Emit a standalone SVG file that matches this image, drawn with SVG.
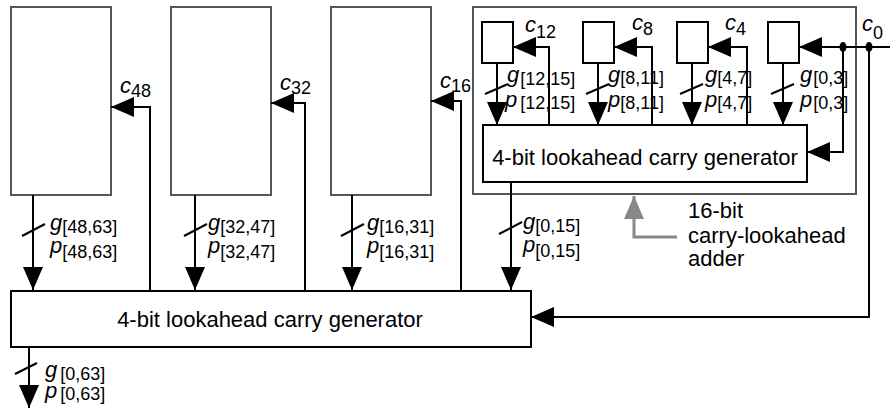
<svg xmlns="http://www.w3.org/2000/svg" width="890" height="410" viewBox="0 0 890 410">
<style>
text{font-family:"Liberation Sans",Arial,Helvetica,sans-serif;fill:#000}
.v{font-style:italic;font-size:22px}
.s{font-style:normal;font-size:18px}
.t{font-size:22px}
.box{fill:#fff;stroke:#555;stroke-width:2}
.blk{fill:#fff;stroke:#000;stroke-width:2}
.grp{fill:none;stroke:#555;stroke-width:2}
.w{fill:none;stroke:#000;stroke-width:2}
.a{marker-end:url(#ah)}
.gr{fill:none;stroke:#888;stroke-width:3;marker-end:url(#gh)}
</style>
<defs>
<marker id="ah" markerUnits="userSpaceOnUse" markerWidth="24" markerHeight="22" refX="23" refY="10" orient="auto" overflow="visible">
<path d="M0,0 L23,10 L0,20 Z" fill="#000"/>
</marker>
<marker id="gh" markerUnits="userSpaceOnUse" markerWidth="24" markerHeight="22" refX="23" refY="10" orient="auto" overflow="visible">
<path d="M0,0 L23,10 L0,20 Z" fill="#888"/>
</marker>
</defs>

<g id="adder48"><rect class="box" x="11" y="7" width="100" height="188"/></g>
<g id="adder32"><rect class="box" x="171" y="7" width="100" height="188"/></g>
<g id="adder16"><rect class="box" x="331" y="7" width="100" height="188"/></g>

<g id="cla16">
<rect class="grp" x="473" y="7" width="383" height="187"/>
<g id="sub12"><rect class="blk" x="482" y="22" width="31" height="41"/></g>
<g id="sub8"><rect class="blk" x="583" y="22" width="31" height="41"/></g>
<g id="sub4"><rect class="blk" x="677" y="22" width="31" height="41"/></g>
<g id="sub0"><rect class="blk" x="768" y="22" width="31" height="41"/></g>
<g id="gen16"><rect class="blk" x="483" y="125" width="324" height="57"/>
<text class="t" x="645" y="165" text-anchor="middle">4-bit lookahead carry generator</text></g>
</g>

<g id="gen64"><rect class="blk" x="11" y="291" width="520" height="56"/>
<text class="t" x="270" y="326.5" text-anchor="middle">4-bit lookahead carry generator</text></g>

<g id="connectors">
<line class="w a" x1="33" y1="195" x2="33" y2="290"/>
<line class="w a" x1="195" y1="195" x2="195" y2="290"/>
<line class="w a" x1="352" y1="195" x2="352" y2="290"/>
<line class="w a" x1="511" y1="182" x2="511" y2="290"/>
<line class="w" x1="22" y1="236" x2="45" y2="224"/>
<line class="w" x1="184" y1="236" x2="207" y2="224"/>
<line class="w" x1="341" y1="236" x2="364" y2="224"/>
<line class="w" x1="499" y1="234" x2="522" y2="222"/>
<polyline class="w a" points="150,291 150,107 111,107"/>
<polyline class="w a" points="305,291 305,103 271,103"/>
<polyline class="w a" points="461,291 461,101 431,101"/>
<line class="w a" x1="497" y1="63" x2="497" y2="125"/>
<line class="w a" x1="598" y1="63" x2="598" y2="125"/>
<line class="w a" x1="692" y1="63" x2="692" y2="125"/>
<line class="w a" x1="783" y1="63" x2="783" y2="125"/>
<line class="w" x1="485" y1="94" x2="508" y2="84"/>
<line class="w" x1="586" y1="94" x2="609" y2="84"/>
<line class="w" x1="680" y1="94" x2="703" y2="84"/>
<line class="w" x1="771" y1="94" x2="794" y2="84"/>
<polyline class="w a" points="549,125 549,47 513,47"/>
<polyline class="w a" points="652,125 652,47 614,47"/>
<polyline class="w a" points="747,125 747,47 708,47"/>
<line class="w a" x1="890" y1="47" x2="799" y2="47"/>
<polyline class="w a" points="843,47 843,152 807,152"/>
<polyline class="w a" points="869,47 869,317 531,317"/>
<ellipse cx="843" cy="47" rx="3.5" ry="5" fill="#000"/>
<ellipse cx="869" cy="47" rx="3.5" ry="5" fill="#000"/>
<line class="w a" x1="29" y1="347" x2="29" y2="408"/>
<line class="w" x1="15" y1="374" x2="37" y2="363"/>
<polyline class="gr" points="677,237 634,237 634,196"/>
</g>

<g id="labels">
<text class="v" x="50" y="230">g<tspan class="s" dy="3">[48,63]</tspan></text>
<text class="v" x="50" y="253">p<tspan class="s" dy="5">[48,63]</tspan></text>
<text class="v" x="208" y="230">g<tspan class="s" dy="3">[32,47]</tspan></text>
<text class="v" x="208" y="253">p<tspan class="s" dy="5">[32,47]</tspan></text>
<text class="v" x="367" y="230">g<tspan class="s" dy="3">[16,31]</tspan></text>
<text class="v" x="367" y="253">p<tspan class="s" dy="5">[16,31]</tspan></text>
<text class="v" x="523" y="229">g<tspan class="s" dy="3">[0,15]</tspan></text>
<text class="v" x="523" y="252">p<tspan class="s" dy="5">[0,15]</tspan></text>
<text class="v" x="45" y="377">g<tspan class="s" dx="3" dy="3">[0,63]</tspan></text>
<text class="v" x="45" y="398">p<tspan class="s" dx="3" dy="2">[0,63]</tspan></text>

<text class="v" x="507" y="82">g<tspan class="s" dx="1" dy="3">[12,15]</tspan></text>
<text class="v" x="505" y="107">p<tspan class="s" dx="3" dy="2">[12,15]</tspan></text>
<text class="v" x="608" y="82">g<tspan class="s" dy="2">[8,11]</tspan></text>
<text class="v" x="608" y="107">p<tspan class="s" dy="2">[8,11]</tspan></text>
<text class="v" x="705" y="82">g<tspan class="s" dy="2">[4,7]</tspan></text>
<text class="v" x="705" y="107">p<tspan class="s" dy="2">[4,7]</tspan></text>
<text class="v" x="800" y="82">g<tspan class="s" dx="1" dy="2">[0,3]</tspan></text>
<text class="v" x="800" y="107">p<tspan class="s" dx="1" dy="2">[0,3]</tspan></text>

<text class="v" x="120" y="93">c<tspan class="s" dy="4">48</tspan></text>
<text class="v" x="280" y="90">c<tspan class="s" dy="4">32</tspan></text>
<text class="v" x="440" y="88">c<tspan class="s" dy="4">16</tspan></text>
<text class="v" x="525" y="32">c<tspan class="s" dy="6">12</tspan></text>
<text class="v" x="632" y="30">c<tspan class="s" dy="5">8</tspan></text>
<text class="v" x="725" y="30">c<tspan class="s" dy="5">4</tspan></text>
<text class="v" x="862" y="31">c<tspan class="s" dy="8">0</tspan></text>

<text class="t" x="688" y="218">16-bit</text>
<text class="t" x="688" y="243">carry-lookahead</text>
<text class="t" x="688" y="266">adder</text>
</g>
</svg>
